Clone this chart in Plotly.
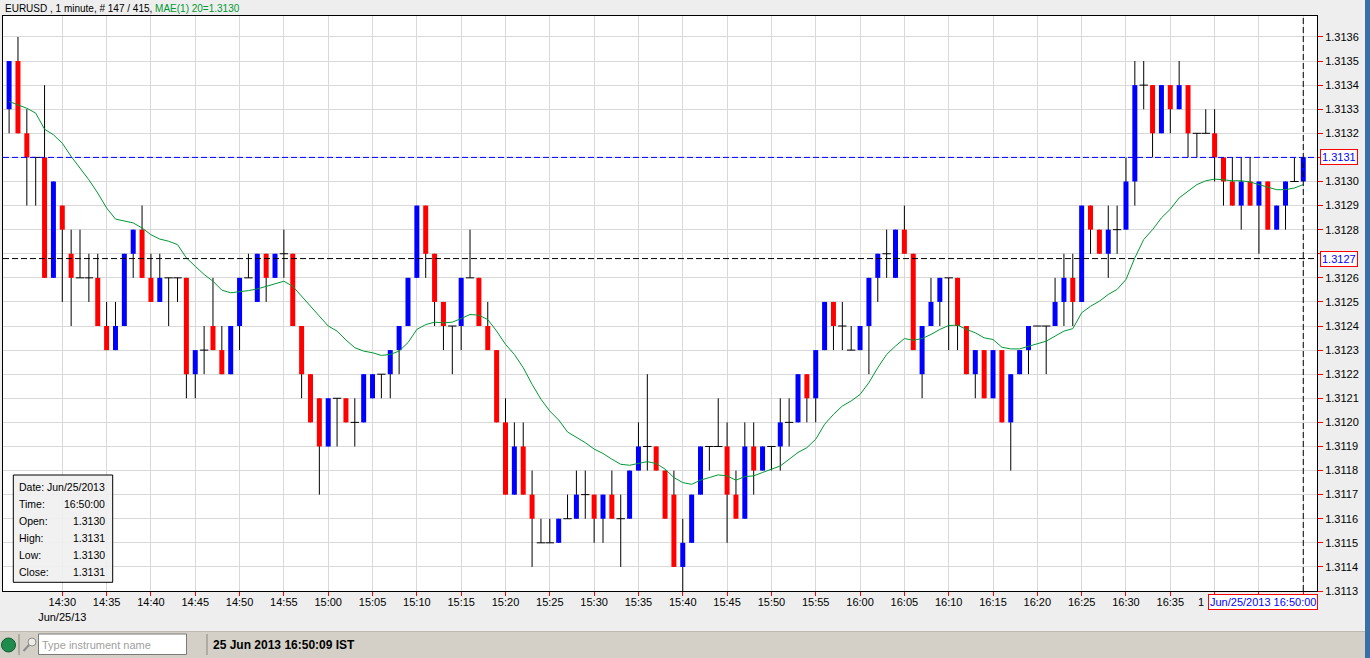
import plotly.graph_objects as go
import pandas as pd

# ---------------- data ----------------
times = pd.date_range("2013-06-25 14:24", periods=147, freq="min")

opens = [1.3133,1.3135,1.3132,1.3131,1.3131,1.3126,1.3129,1.3127,1.3126,1.3126,
         1.3126,1.3124,1.3123,1.3124,1.3127,1.3128,1.3126,1.3125,1.3126,1.3126,
         1.3126,1.3122,1.3123,1.3124,1.3123,1.3122,1.3124,1.3126,1.3125,1.3127,
         1.3126,1.3127,1.3127,1.3124,1.3122,1.3121,1.3119,1.3121,1.3121,1.3120,
         1.3120,1.3121,1.3122,1.3122,1.3123,1.3124,1.3126,1.3129,1.3127,1.3125,
         1.3124,1.3124,1.3126,1.3126,1.3124,1.3123,1.3120,1.3117,1.3119,1.3117,
         1.3115,1.3115,1.3115,1.3116,1.3116,1.3117,1.3117,1.3116,1.3117,1.3116,
         1.3116,1.3118,1.3119,1.3119,1.3118,1.3117,1.3114,1.3115,1.3117,1.3119,
         1.3119,1.3119,1.3117,1.3116,1.3119,1.3118,1.3119,1.3119,1.3120,1.3120,
         1.3122,1.3121,1.3123,1.3125,1.3124,1.3123,1.3123,1.3124,1.3126,1.3127,
         1.3126,1.3128,1.3127,1.3122,1.3124,1.3125,1.3126,1.3126,1.3124,1.3122,
         1.3123,1.3121,1.3123,1.3120,1.3122,1.3123,1.3124,1.3124,1.3124,1.3125,
         1.3126,1.3125,1.3129,1.3128,1.3127,1.3128,1.3128,1.3130,1.3134,1.3134,
         1.3132,1.3134,1.3133,1.3134,1.3132,1.3132,1.3132,1.3131,1.3130,1.3129,
         1.3130,1.3129,1.3130,1.3128,1.3129,1.3130,1.3130]

highs = [1.3135,1.3136,1.3133,1.3131,1.3134,1.3130,1.3129,1.3128,1.3128,1.3127,
         1.3127,1.3125,1.3125,1.3127,1.3128,1.3129,1.3127,1.3127,1.3126,1.3126,
         1.3126,1.3123,1.3124,1.3126,1.3124,1.3124,1.3126,1.3127,1.3127,1.3127,
         1.3127,1.3128,1.3127,1.3124,1.3122,1.3121,1.3121,1.3121,1.3121,1.3121,
         1.3122,1.3122,1.3122,1.3123,1.3124,1.3126,1.3129,1.3129,1.3127,1.3125,
         1.3124,1.3126,1.3128,1.3126,1.3125,1.3123,1.3121,1.3120,1.3120,1.3118,
         1.3116,1.3116,1.3116,1.3117,1.3118,1.3118,1.3117,1.3117,1.3118,1.3117,
         1.3118,1.3120,1.3122,1.3119,1.3118,1.3118,1.3116,1.3117,1.3119,1.3119,
         1.3121,1.3120,1.3118,1.3120,1.3120,1.3119,1.3119,1.3121,1.3121,1.3122,
         1.3122,1.3123,1.3125,1.3125,1.3125,1.3124,1.3124,1.3126,1.3127,1.3128,
         1.3128,1.3129,1.3127,1.3124,1.3126,1.3126,1.3126,1.3126,1.3124,1.3123,
         1.3123,1.3123,1.3123,1.3122,1.3123,1.3124,1.3124,1.3124,1.3126,1.3127,
         1.3127,1.3129,1.3129,1.3128,1.3129,1.3129,1.3131,1.3135,1.3135,1.3134,
         1.3134,1.3134,1.3135,1.3134,1.3132,1.3133,1.3133,1.3131,1.3131,1.3131,
         1.3131,1.3130,1.3130,1.3129,1.3130,1.3131,1.3131]

lows = [1.3132,1.3132,1.3129,1.3129,1.3126,1.3126,1.3125,1.3124,1.3126,1.3125,
        1.3124,1.3123,1.3123,1.3124,1.3126,1.3126,1.3125,1.3125,1.3124,1.3125,
        1.3121,1.3121,1.3122,1.3123,1.3122,1.3122,1.3123,1.3126,1.3125,1.3125,
        1.3126,1.3126,1.3124,1.3121,1.3120,1.3117,1.3119,1.3119,1.3120,1.3119,
        1.3120,1.3121,1.3121,1.3121,1.3122,1.3124,1.3126,1.3126,1.3124,1.3123,
        1.3122,1.3123,1.3126,1.3124,1.3123,1.3120,1.3117,1.3117,1.3117,1.3114,
        1.3115,1.3115,1.3115,1.3116,1.3116,1.3116,1.3115,1.3115,1.3116,1.3114,
        1.3116,1.3118,1.3118,1.3118,1.3116,1.3114,1.3113,1.3115,1.3117,1.3118,
        1.3119,1.3115,1.3116,1.3116,1.3117,1.3118,1.3118,1.3118,1.3119,1.3120,
        1.3120,1.3120,1.3123,1.3123,1.3123,1.3123,1.3123,1.3122,1.3125,1.3126,
        1.3126,1.3127,1.3123,1.3121,1.3124,1.3124,1.3123,1.3123,1.3122,1.3121,
        1.3121,1.3121,1.3120,1.3118,1.3122,1.3122,1.3124,1.3122,1.3124,1.3124,
        1.3124,1.3125,1.3127,1.3127,1.3126,1.3127,1.3128,1.3129,1.3133,1.3131,
        1.3132,1.3132,1.3133,1.3131,1.3131,1.3132,1.3130,1.3129,1.3129,1.3128,
        1.3129,1.3127,1.3128,1.3128,1.3128,1.3130,1.3130]

closes = [1.3135,1.3132,1.3131,1.3131,1.3126,1.3130,1.3128,1.3126,1.3126,1.3126,
          1.3124,1.3123,1.3124,1.3127,1.3128,1.3126,1.3125,1.3126,1.3126,1.3126,
          1.3122,1.3123,1.3123,1.3123,1.3122,1.3124,1.3126,1.3126,1.3127,1.3126,
          1.3127,1.3127,1.3124,1.3122,1.3120,1.3119,1.3121,1.3121,1.3120,1.3120,
          1.3122,1.3122,1.3122,1.3123,1.3124,1.3126,1.3129,1.3127,1.3125,1.3124,
          1.3124,1.3126,1.3126,1.3124,1.3123,1.3120,1.3117,1.3119,1.3117,1.3116,
          1.3115,1.3115,1.3116,1.3116,1.3117,1.3117,1.3116,1.3117,1.3116,1.3116,
          1.3118,1.3119,1.3119,1.3118,1.3116,1.3114,1.3115,1.3117,1.3119,1.3119,
          1.3119,1.3117,1.3116,1.3119,1.3118,1.3119,1.3119,1.3120,1.3120,1.3122,
          1.3121,1.3123,1.3125,1.3124,1.3124,1.3123,1.3124,1.3126,1.3127,1.3127,
          1.3128,1.3127,1.3123,1.3124,1.3125,1.3126,1.3126,1.3124,1.3122,1.3123,
          1.3121,1.3123,1.3120,1.3122,1.3123,1.3124,1.3124,1.3124,1.3125,1.3126,
          1.3125,1.3129,1.3128,1.3127,1.3128,1.3128,1.3130,1.3134,1.3134,1.3132,
          1.3134,1.3133,1.3134,1.3132,1.3132,1.3132,1.3131,1.3130,1.3129,1.3130,
          1.3129,1.3130,1.3128,1.3129,1.3130,1.3130,1.3131]

ma20 = [1.313332,1.313318,1.313304,1.313284,1.313217,1.313194,1.313159,1.313104,1.313056,1.313007,
        1.312952,1.312890,1.312844,1.312835,1.312828,1.312807,1.312779,1.312761,1.312752,1.312738,
        1.312683,1.312648,1.312614,1.312586,1.312549,1.312538,1.312542,1.312547,1.312554,1.312565,
        1.312576,1.312586,1.312565,1.312524,1.312482,1.312438,1.312400,1.312379,1.312342,1.312310,
        1.312296,1.312289,1.312278,1.312282,1.312296,1.312331,1.312386,1.312406,1.312416,1.312413,
        1.312416,1.312431,1.312448,1.312445,1.312427,1.312379,1.312324,1.312282,1.312227,1.312158,
        1.312096,1.312047,1.312010,1.311960,1.311937,1.311916,1.311889,1.311871,1.311847,1.311826,
        1.311822,1.311829,1.311837,1.311829,1.311806,1.311771,1.311750,1.311743,1.311760,1.311771,
        1.311782,1.311778,1.311760,1.311775,1.311778,1.311792,1.311806,1.311819,1.311847,1.311875,
        1.311895,1.311930,1.311992,1.312033,1.312068,1.312089,1.312116,1.312165,1.312227,1.312282,
        1.312317,1.312348,1.312341,1.312348,1.312365,1.312386,1.312402,1.312404,1.312386,1.312372,
        1.312351,1.312344,1.312312,1.312305,1.312305,1.312315,1.312328,1.312337,1.312358,1.312379,
        1.312389,1.312455,1.312482,1.312503,1.312531,1.312552,1.312593,1.312683,1.312759,1.312800,
        1.312849,1.312885,1.312932,1.312959,1.312987,1.313003,1.313010,1.313007,1.313003,1.313003,
        1.312998,1.312987,1.312976,1.312966,1.312966,1.312973,1.312987]

tick_labels = ["14:30","14:35","14:40","14:45","14:50","14:55","15:00","15:05","15:10",
               "15:15","15:20","15:25","15:30","15:35","15:40","15:45","15:50","15:55",
               "16:00","16:05","16:10","16:15","16:20","16:25","16:30","16:35","16:40",
               "16:45","16:50"]
hidden_time_labels = ["16:40", "16:45", "16:50"]   # covered by the cursor time box
date_label = "Jun/25/13"
price_ticks = [1.3113,1.3114,1.3115,1.3116,1.3117,1.3118,1.3119,1.3120,1.3121,1.3122,
               1.3123,1.3124,1.3125,1.3126,1.3127,1.3128,1.3129,1.3130,1.3131,1.3132,
               1.3133,1.3134,1.3135,1.3136]
cursor_price = 1.3131       # blue dashed line
ref_price = 1.31268         # black dashed line (shown as 1.3127)
total_bars = 415

# ---------------- geometry helpers ----------------
W_FIG, H_FIG = 1370, 658
PL, PR, PT, PB = 3, 1317, 16, 591
PW, PH = PR - PL, PB - PT

def px(x):
    return (x - PL) / PW

def py(y):
    return (PB - y) / PH

FONT = "Liberation Sans, Arial, sans-serif"
GREEN = "#009933"

# ---------------- traces ----------------
wick_x, wick_y = [], []
up_x, up_y, dn_x, dn_y = [], [], [], []
doji_x, doji_y = [], []
for t, o, h, l, c in zip(times, opens, highs, lows, closes):
    if h > l:
        wick_x += [t, t, None]
        wick_y += [l, h, None]
    if c > o:
        up_x += [t, t, None]
        up_y += [o, c, None]
    elif c < o:
        dn_x += [t, t, None]
        dn_y += [o, c, None]
    else:
        doji_x.append(t)
        doji_y.append(o)

fig = go.Figure()
fig.add_trace(go.Scatter(x=wick_x, y=wick_y, mode="lines",
                         line=dict(color="black", width=1), hoverinfo="skip"))
fig.add_trace(go.Scatter(x=up_x, y=up_y, mode="lines",
                         line=dict(color="#0000ff", width=5), hoverinfo="skip"))
fig.add_trace(go.Scatter(x=dn_x, y=dn_y, mode="lines",
                         line=dict(color="#ff0000", width=5), hoverinfo="skip"))
fig.add_trace(go.Scatter(x=doji_x, y=doji_y, mode="markers",
                         marker=dict(symbol="line-ew", size=6,
                                     line=dict(color="black", width=1)),
                         hoverinfo="skip"))
fig.add_trace(go.Scatter(x=list(times), y=ma20, mode="lines",
                         line=dict(color=GREEN, width=1), hoverinfo="skip"))

# ---------------- axes ----------------
x_start = times[0] - pd.Timedelta(seconds=41.3)
x_end = times[0] + pd.Timedelta(minutes=147.55)
tickvals = [pd.Timestamp("2013-06-25 " + s) for s in tick_labels]
ticktext = []
for i, s in enumerate(tick_labels):
    if s in hidden_time_labels:
        ticktext.append("")
    elif i == 0:
        ticktext.append(s + "<br>" + date_label)
    else:
        ticktext.append(s)

covered_prices = {round(cursor_price, 4), round(ref_price, 4)}
y_ticktext = ["" if round(p, 4) in covered_prices else "%.4f" % p for p in price_ticks]

fig.update_xaxes(type="date", range=[x_start, x_end],
                 tickvals=tickvals, ticktext=ticktext,
                 ticks="outside", ticklen=4, tickcolor="#ff0000", tickwidth=1,
                 ticklabelstandoff=-3,
                 showgrid=True, gridcolor="#d9d9d9", gridwidth=1,
                 showline=True, linecolor="black", linewidth=1, mirror=True,
                 tickfont=dict(family=FONT, size=11, color="black"),
                 zeroline=False)
fig.update_yaxes(range=[1.3113, 1.313687], side="right",
                 tickvals=price_ticks, ticktext=y_ticktext,
                 ticks="outside", ticklen=5, tickcolor="#ff0000", tickwidth=1,
                 showgrid=True, gridcolor="#d9d9d9", gridwidth=1,
                 showline=True, linecolor="black", linewidth=1, mirror=True,
                 tickfont=dict(family=FONT, size=11, color="black"),
                 zeroline=False)

shapes = []
# horizontal dashed lines
shapes.append(dict(type="line", xref="paper", x0=0, x1=1, yref="y",
                   y0=cursor_price, y1=cursor_price,
                   line=dict(color="#0000ff", width=1, dash="6px,3px")))
shapes.append(dict(type="line", xref="paper", x0=0, x1=1, yref="y",
                   y0=ref_price, y1=ref_price,
                   line=dict(color="black", width=1, dash="6px,3px")))
# vertical cursor line
shapes.append(dict(type="line", xref="x", x0=times[-1], x1=times[-1],
                   yref="paper", y0=0, y1=1,
                   line=dict(color="black", width=1, dash="6px,3px")))
# info box
shapes.append(dict(type="rect", xref="paper", yref="paper",
                   x0=px(13.3), x1=px(112.7), y0=py(582.3), y1=py(475),
                   fillcolor="rgba(240,240,240,0.92)",
                   line=dict(color="black", width=1)))
# status bar
shapes.append(dict(type="rect", xref="paper", yref="paper",
                   x0=px(0), x1=px(1365), y0=py(658), y1=py(631.5),
                   fillcolor="#d4d0c8", line=dict(width=0), layer="above"))
shapes.append(dict(type="line", xref="paper", yref="paper",
                   x0=px(0), x1=px(1365), y0=py(631.5), y1=py(631.5),
                   line=dict(color="#bdb9b1", width=1)))
# right window strip
shapes.append(dict(type="rect", xref="paper", yref="paper",
                   x0=px(1365), x1=px(1370), y0=py(658), y1=py(0),
                   fillcolor="#3b6ea5", line=dict(width=0)))
# green status light
shapes.append(dict(type="circle", xref="paper", yref="paper",
                   x0=px(1.5), x1=px(15.5), y0=py(652), y1=py(638),
                   fillcolor="#1f8b4c", line=dict(color="#0f5e30", width=1)))
# separators
for sx in (19, 207):
    shapes.append(dict(type="line", xref="paper", yref="paper",
                       x0=px(sx), x1=px(sx), y0=py(655), y1=py(634),
                       line=dict(color="#8a877f", width=1)))
# magnifier icon
shapes.append(dict(type="circle", xref="paper", yref="paper",
                   x0=px(28), x1=px(36), y0=py(646), y1=py(638),
                   fillcolor="rgba(255,255,255,0.6)",
                   line=dict(color="#8c8c8c", width=1)))
shapes.append(dict(type="line", xref="paper", yref="paper",
                   x0=px(29), x1=px(23.5), y0=py(645), y1=py(651),
                   line=dict(color="#8c8c8c", width=2)))
# instrument input box
shapes.append(dict(type="rect", xref="paper", yref="paper",
                   x0=px(38.5), x1=px(186.5), y0=py(654.5), y1=py(634),
                   fillcolor="white", line=dict(color="#7a7a7a", width=1)))

annotations = []
# header
annotations.append(dict(
    xref="paper", yref="paper", x=px(3), y=py(8.5), xanchor="left", yanchor="middle",
    text=("EURUSD , 1 minute, # %d / %d, " % (len(times), total_bars)
          + "<span style='color:%s'>MAE(1) 20=%.4f</span>" % (GREEN, ma20[-1])),
    showarrow=False, font=dict(family=FONT, size=10, color="black")))
# price boxes on right axis
for val, txt in ((cursor_price, "%.4f" % cursor_price), (ref_price, "%.4f" % ref_price)):
    annotations.append(dict(
        xref="paper", yref="y", x=px(1320), y=val, xanchor="left", yanchor="middle",
        text=txt, showarrow=False, bgcolor="white", bordercolor="#ff0000",
        borderwidth=1, borderpad=1, font=dict(family=FONT, size=11, color="#0000ff")))
# partially hidden "16:40" label: only its first digit peeks out left of the box
annotations.append(dict(
    xref="paper", yref="paper", x=px(1206), y=py(602), xanchor="right", yanchor="middle",
    text=hidden_time_labels[0][0], showarrow=False,
    font=dict(family=FONT, size=11, color="black")))
# time box
annotations.append(dict(
    xref="paper", yref="paper", x=px(1318), y=py(594), xanchor="right", yanchor="top",
    text=times[-1].strftime("%b/%d/%Y %H:%M:%S"), showarrow=False,
    bgcolor="white", bordercolor="#ff0000", borderwidth=1, borderpad=1,
    font=dict(family=FONT, size=11, color="#0000ff")))
# info box rows
info_rows = [("Date:", times[-1].strftime("%b/%d/%Y")),
             ("Time:", times[-1].strftime("%H:%M:%S")),
             ("Open:", "%.4f" % opens[-1]),
             ("High:", "%.4f" % highs[-1]),
             ("Low:", "%.4f" % lows[-1]),
             ("Close:", "%.4f" % closes[-1])]
for k, (lab, val) in enumerate(info_rows):
    yy = 487.3 + k * 17
    annotations.append(dict(xref="paper", yref="paper", x=px(17), y=py(yy),
                            xanchor="left", yanchor="middle", text=lab, showarrow=False,
                            font=dict(family=FONT, size=10.5, color="black")))
    annotations.append(dict(xref="paper", yref="paper", x=px(107), y=py(yy),
                            xanchor="right", yanchor="middle", text=val, showarrow=False,
                            font=dict(family=FONT, size=10.5, color="black")))
# status bar texts
annotations.append(dict(xref="paper", yref="paper", x=px(40), y=py(644.5),
                        xanchor="left", yanchor="middle", text="Type instrument name",
                        showarrow=False, font=dict(family=FONT, size=11, color="#a0a0a0")))
annotations.append(dict(xref="paper", yref="paper", x=px(211), y=py(645),
                        xanchor="left", yanchor="middle",
                        text="<b>25 Jun 2013 16:50:09 IST</b>",
                        showarrow=False, font=dict(family=FONT, size=12, color="black")))

fig.update_layout(
    width=W_FIG, height=H_FIG,
    margin=dict(l=PL, r=W_FIG - PR, t=PT, b=H_FIG - PB, pad=0),
    paper_bgcolor="#eeeeee", plot_bgcolor="white",
    showlegend=False, shapes=shapes, annotations=annotations,
    font=dict(family=FONT, size=11, color="black"),
    hovermode=False,
)

fig.write_html("out.html", config={"displayModeBar": False},
               post_script="document.body.style.margin='0';document.body.style.overflow='hidden';")
